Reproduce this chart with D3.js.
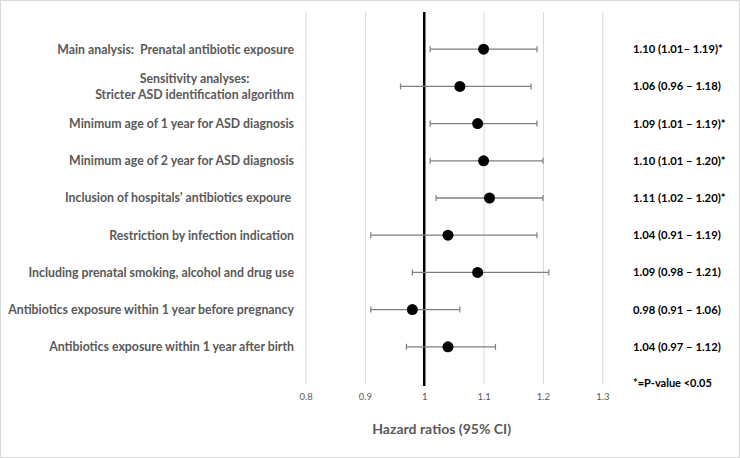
<!DOCTYPE html>
<html><head><meta charset="utf-8">
<script src="https://cdn.jsdelivr.net/npm/d3@7"></script>
<style>body{margin:0;background:#fff}svg{display:block}</style>
</head><body>
<svg id="c" width="740" height="458"></svg>
<script>
const labels = [
  ["Main analysis:  Prenatal antibiotic exposure"],
  ["Sensitivity analyses:", "Stricter ASD identification algorithm"],
  ["Minimum age of 1 year for ASD diagnosis"],
  ["Minimum age of 2 year for ASD diagnosis"],
  ["Inclusion of hospitals' antibiotics expoure "],
  ["Restriction by infection indication"],
  ["Including prenatal smoking, alcohol and drug use"],
  ["Antibiotics exposure within 1 year before pregnancy"],
  ["Antibiotics exposure within 1 year after birth"]
];
const hr    = [1.10, 1.06, 1.09, 1.10, 1.11, 1.04, 1.09, 0.98, 1.04];
const lower = [1.01, 0.96, 1.01, 1.01, 1.02, 0.91, 0.98, 0.91, 0.97];
const upper = [1.19, 1.18, 1.19, 1.20, 1.20, 1.19, 1.21, 1.06, 1.12];
const valueText = [
  "1.10 (1.01\u2013 1.19)*",
  "1.06 (0.96 \u2013 1.18)",
  "1.09 (1.01 \u2013 1.19)*",
  "1.10 (1.01 \u2013 1.20)*",
  "1.11 (1.02 \u2013 1.20)*",
  "1.04 (0.91 \u2013 1.19)",
  "1.09 (0.98 \u2013 1.21)",
  "0.98 (0.91 \u2013 1.06)",
  "1.04 (0.97 \u2013 1.12)"
];
const xTicks = [0.8, 0.9, 1.0, 1.1, 1.2, 1.3];
const footnote = "*=P-value <0.05";
const axisTitle = "Hazard ratios (95% CI)";

const svg = d3.select("#c");
const font = "Lato, 'Open Sans', sans-serif";
svg.append("rect").attr("x",0.5).attr("y",0.5).attr("width",739).attr("height",457)
  .attr("fill","#fff").attr("stroke","#d9d9d9");

const x = d3.scaleLinear().domain([0.8,1.3]).range([305.5,602.3]);
const y = d3.scaleLinear().domain([0,10]).range([12,384]);
const idx = d3.range(hr.length);

// fit a text element's font size so its width equals target
function fit(sel, target) {
  const base = parseFloat(sel.attr("font-size"));
  const w = sel.node().getComputedTextLength();
  sel.attr("font-size", base * target / w);
  return base * target / w;
}

// gridlines
const ax = svg.append("g").attr("transform","translate(0,384)")
  .call(d3.axisBottom(x).tickValues(xTicks).tickSize(-372).tickPadding(9)
    .tickFormat(d => d3.format("")(+d.toFixed(1))));
ax.select(".domain").remove();
ax.selectAll(".tick line").attr("stroke","#d9d9d9").attr("stroke-width",1);
ax.selectAll(".tick text").attr("fill","#595959").attr("font-family",font).attr("font-size",9.5);

// reference line
svg.append("line").attr("x1",x(1)).attr("x2",x(1)).attr("y1",y(0)).attr("y2",386)
  .attr("stroke","#000").attr("stroke-width",2.5);

// error bars
const g = svg.append("g");
g.selectAll("line.ci").data(idx).join("line").attr("class","ci")
  .attr("x1",i=>x(lower[i])).attr("x2",i=>x(upper[i]))
  .attr("y1",i=>y(i+1)).attr("y2",i=>y(i+1))
  .attr("stroke","#7f7f7f").attr("stroke-width",1.3);
[lower, upper].forEach(arr=>{
  g.selectAll(null).data(idx).join("line")
    .attr("x1",i=>x(arr[i])).attr("x2",i=>x(arr[i]))
    .attr("y1",i=>y(i+1)-3).attr("y2",i=>y(i+1)+3)
    .attr("stroke","#7f7f7f").attr("stroke-width",1.2);
});
g.selectAll("circle").data(idx).join("circle")
  .attr("cx",i=>x(hr[i])).attr("cy",i=>y(i+1)).attr("r",5.5).attr("fill","#000");

// labels: size fitted so the longest label spans the same width as the reference
const lab = svg.append("g").attr("font-family",font).attr("font-weight",700)
  .attr("font-size",13.5).attr("fill","#595959");
const probe = lab.append("text").attr("font-size",13.5).text(labels[7][0]);
const labSize = fit(probe, 286);
probe.remove();
lab.attr("font-size", labSize);
idx.forEach(i=>{
  const L = labels[i];
  if (L.length === 1) {
    lab.append("text").attr("x",294).attr("y",y(i+1)).attr("dy","0.35em")
      .attr("text-anchor","end").attr("xml:space","preserve").text(L[0]);
  } else {
    const t2 = lab.append("text").attr("x",294).attr("y",y(i+1)+8).attr("dy","0.35em")
      .attr("text-anchor","end").text(L[1]);
    const w = t2.node().getComputedTextLength();
    lab.append("text").attr("x",294 - w/2).attr("y",y(i+1)-8).attr("dy","0.35em")
      .attr("text-anchor","middle").text(L[0]);
  }
});

// value text
const vt = svg.append("g").attr("font-family",font).attr("font-weight",700)
  .attr("font-size",13).attr("fill","#000");
const vprobe = vt.append("text").attr("font-size",13).text(valueText[0]);
const vSize = fit(vprobe, 90);
vprobe.remove();
vt.attr("font-size", vSize);
idx.forEach(i=>{
  vt.append("text").attr("x",633).attr("y",y(i+1)).attr("dy","0.35em").text(valueText[i]);
});
const fn = vt.append("text").attr("x",633).attr("y",383).attr("dy","0.35em").attr("font-size",12).text(footnote);
fit(fn, 79);

const at = svg.append("text").attr("x",441.7).attr("y",429).attr("dy","0.35em").attr("text-anchor","middle")
  .attr("font-family",font).attr("font-weight",700).attr("font-size",16).attr("fill","#595959")
  .text(axisTitle);
fit(at, 139);
</script>
</body></html>
